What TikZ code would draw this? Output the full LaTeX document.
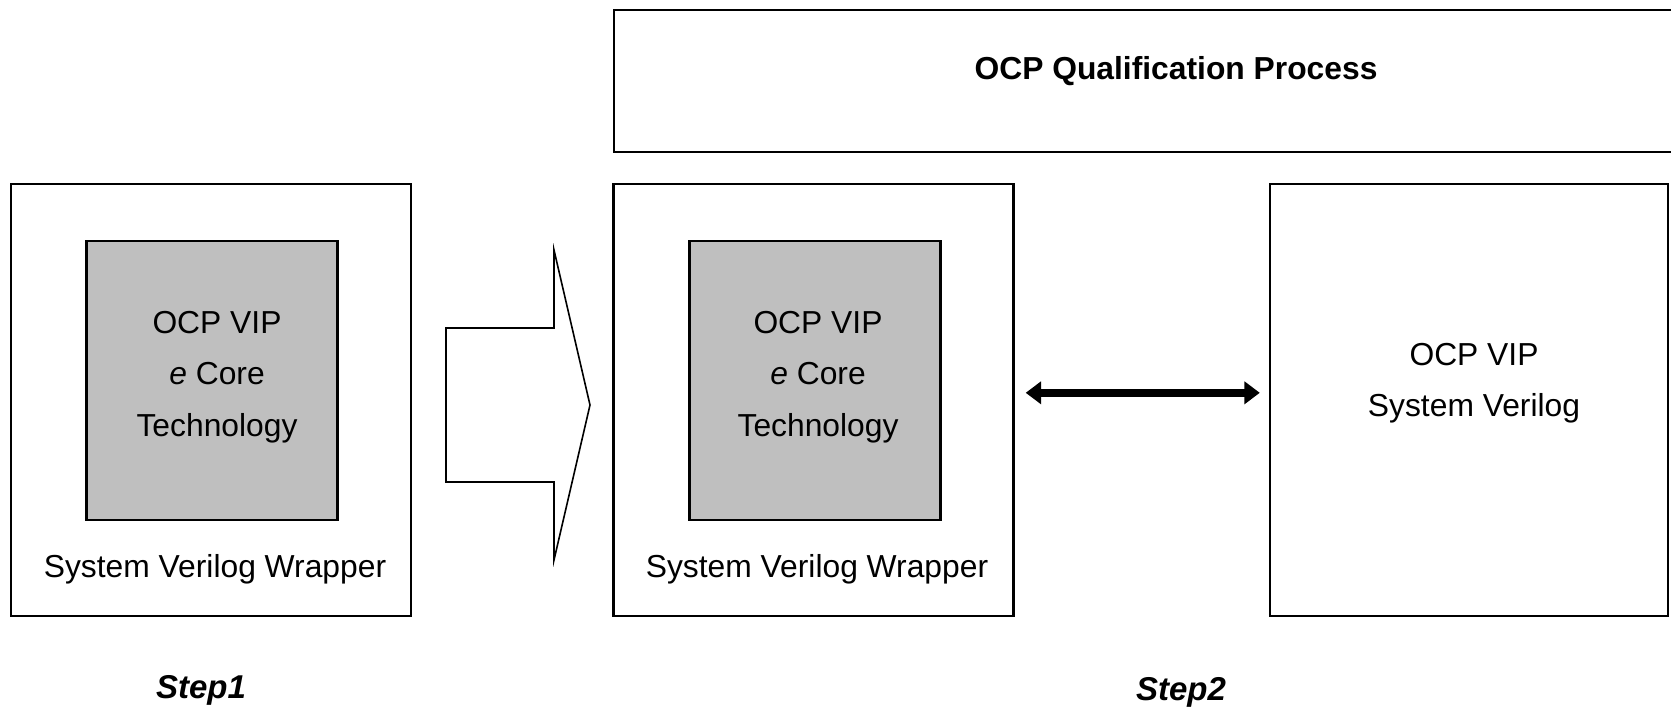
\documentclass[tikz,border=0pt]{standalone}
\usepackage{fontspec}
\setmainfont{Liberation Sans}
\usetikzlibrary{arrows.meta, positioning}

\begin{document}
\begin{tikzpicture}[
    x=0.5pt, y=-0.5pt,
    outerbox/.style={draw, line width=1.2pt, minimum width=200pt, minimum height=216pt, inner sep=0pt},
    corebox/.style={draw, line width=1.2pt, fill=black!25, minimum width=125.5pt, minimum height=139.5pt, inner sep=0pt},
    txt/.style={align=center, inner sep=0pt, font=\fontsize{15.9}{25.7}\selectfont},
    steplabel/.style={inner sep=0pt, font=\fontsize{16.5}{19}\selectfont\bfseries\itshape},
    dblarrow/.style={{Triangle[length=7.7pt,width=11pt]}-{Triangle[length=7.7pt,width=11pt]}, line width=3.8pt}
]
    \useasboundingbox (0,0) rectangle (1671,707);

    % Qualification banner
    \node[draw, line width=1.2pt, minimum width=530.5pt, minimum height=71pt, inner sep=0pt] (qual) at (1144.5,81) {};
    \node[txt, font=\fontsize{15.9}{19}\selectfont\bfseries] (qualtext) at (1176,71) {OCP Qualification Process};

    % Step 1
    \node[outerbox] (wrapA) at (211,400) {};
    \node[corebox] (coreA) at (212,380.5) {};
    \node[txt] (coreAtext) at (217,377) {OCP VIP\\\textit{e} Core\\Technology};
    \node[txt] (wrapAtext) at (215,569) {System Verilog Wrapper};

    % Block arrow
    \draw[line width=0.8pt] (446,328) -- (554,328) -- (554,250) -- (590,405)
        -- (554,560) -- (554,482) -- (446,482) -- cycle;

    % Step 2
    \node[outerbox] (wrapB) at (813.5,400) {};
    \node[corebox] (coreB) at (815,380.5) {};
    \node[txt] (coreBtext) at (818,377) {OCP VIP\\\textit{e} Core\\Technology};
    \node[txt] (wrapBtext) at (817,569) {System Verilog Wrapper};
    \node[outerbox, minimum width=199pt] (svvip) at (1469,400) {};
    \node[txt] (svviptext) at (1474,383) {OCP VIP\\System Verilog};

    \draw[dblarrow, shorten <=5.5pt, shorten >=4.5pt]
        ([yshift=3.6pt]wrapB.east) -- ([yshift=3.6pt]svvip.west);

    % Labels
    \node[steplabel] (step1) at (201,690) {Step1};
    \node[steplabel] (step2) at (1181,692) {Step2};
\end{tikzpicture}
\end{document}
